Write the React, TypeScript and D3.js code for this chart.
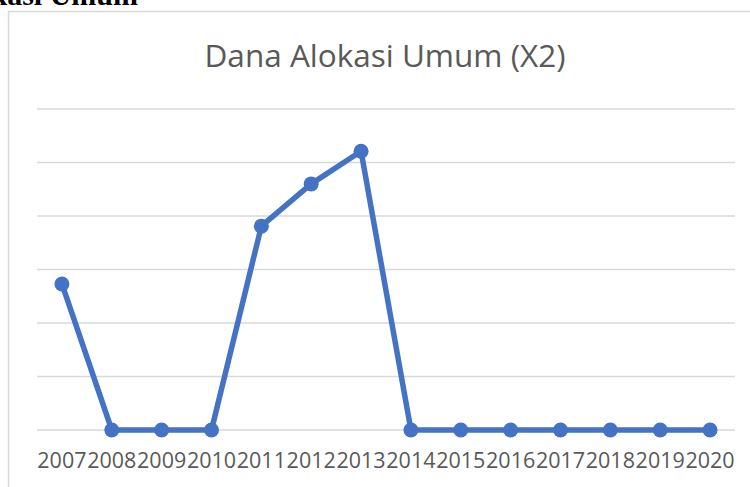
import React, { useEffect, useRef } from 'react';
import * as d3 from 'd3';

const years = ['2007', '2008', '2009', '2010', '2011', '2012', '2013', '2014', '2015', '2016', '2017', '2018', '2019', '2020'];
const values = [2.73, 0, 0, 0, 3.81, 4.6, 5.21, 0, 0, 0, 0, 0, 0, 0];
const gridTicks = [0, 1, 2, 3, 4, 5, 6];

const W = 750;
const H = 487;

const App = () => {
  const svgRef = useRef<SVGSVGElement>(null);

  useEffect(() => {
    const svg = d3.select(svgRef.current);
    svg.selectAll('*').remove();

    const x = d3.scaleBand<string>().domain(years).range([37, 735]);
    const y = d3.scaleLinear().domain([0, 6]).range([430, 109]);
    const cx = (d: string) => (x(d) as number) + x.bandwidth() / 2;

    // cut-off heading from the page behind
    svg
      .append('text')
      .attr('x', 138)
      .attr('y', 5)
      .attr('text-anchor', 'end')
      .style('font-family', '"Liberation Serif", serif')
      .style('font-weight', 'bold')
      .style('font-size', '30px')
      .attr('fill', '#000')
      .text('Dana Alokasi Umum');

    // chart frame
    svg
      .append('rect')
      .attr('x', 8.5)
      .attr('y', 11.5)
      .attr('width', 800)
      .attr('height', 600)
      .attr('fill', '#fff')
      .attr('stroke', '#d9d9d9')
      .attr('stroke-width', 1.5);

    svg
      .append('text')
      .attr('x', 385)
      .attr('y', 67)
      .attr('text-anchor', 'middle')
      .style('font-family', '"Open Sans", sans-serif')
      .style('font-size', '31.5px')
      .attr('fill', '#595959')
      .text('Dana Alokasi Umum (X2)');

    svg
      .append('g')
      .selectAll('line')
      .data(gridTicks)
      .enter()
      .append('line')
      .attr('x1', 37)
      .attr('x2', 735)
      .attr('y1', (d) => y(d))
      .attr('y2', (d) => y(d))
      .attr('stroke', '#d9d9d9')
      .attr('stroke-width', 1.5);

    svg
      .append('g')
      .selectAll('text')
      .data(years)
      .enter()
      .append('text')
      .attr('x', (d) => cx(d))
      .attr('y', 468)
      .attr('text-anchor', 'middle')
      .style('font-family', '"Open Sans", sans-serif')
      .style('font-size', '21.5px')
      .attr('fill', '#595959')
      .text((d) => d);

    const pts = years.map((yr, i) => ({ yr, v: values[i] }));
    const line = d3
      .line<{ yr: string; v: number }>()
      .x((d) => cx(d.yr))
      .y((d) => y(d.v));

    svg
      .append('path')
      .datum(pts)
      .attr('d', line)
      .attr('fill', 'none')
      .attr('stroke', '#4472C4')
      .attr('stroke-width', 5.5)
      .attr('stroke-linejoin', 'round');

    svg
      .append('g')
      .selectAll('circle')
      .data(pts)
      .enter()
      .append('circle')
      .attr('cx', (d) => cx(d.yr))
      .attr('cy', (d) => y(d.v))
      .attr('r', 7.5)
      .attr('fill', '#4472C4');
  }, []);

  return (
    <div style={{ position: 'absolute', left: 0, top: 0 }}>
      <svg ref={svgRef} width={W} height={H} style={{ display: 'block' }}></svg>
    </div>
  );
};

export default App;
